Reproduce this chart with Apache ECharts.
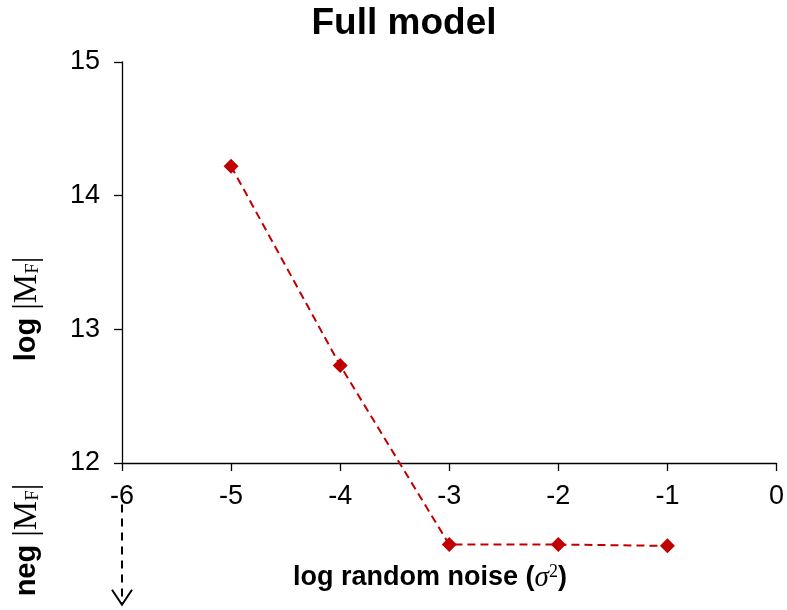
<!DOCTYPE html>
<html>
<head>
<meta charset="utf-8">
<script src="https://cdn.jsdelivr.net/npm/echarts@6/dist/echarts.min.js"></script>
<style>
  html, body { margin: 0; padding: 0; background: #ffffff; }
  #chart { width: 787px; height: 610px; }
</style>
</head>
<body>
<div id="chart"></div>
<script>
// log random noise (x) and log |M_F| (y); values below 12 sit in the "neg" band
var noiseLevels = [-5, -4, -3, -2, -1];
var logMF = [14.22, 12.73, 11.39, 11.39, 11.38];

// axis ticks
var xTicks = [-6, -5, -4, -3, -2, -1, 0];
var yTicks = [12, 13, 14, 15];

// dashed downward arrow marking the negative region of the y axis
var negArrowX = [-6, -6];
var negArrowY = [11.69, 10.94];

var chart = echarts.init(document.getElementById('chart'), null, { renderer: 'canvas' });

var sans = 'Liberation Sans, Arial, sans-serif';
var serif = 'Liberation Serif, Times New Roman, serif';

function mfRich(prefix) {
  return {
    style: {
      text: '{b|' + prefix + ' }{s||M}{sub|F}{s||}',
      rich: {
        b: { fontFamily: sans, fontWeight: 'bold', fontSize: 29, fill: '#000' },
        s: { fontFamily: serif, fontSize: 33, fill: '#000' },
        sub: { fontFamily: serif, fontSize: 19, fill: '#000', padding: [12, 0, 0, 0] }
      },
      align: 'center',
      verticalAlign: 'middle'
    }
  };
}

var option = {
  backgroundColor: '#ffffff',
  animation: false,
  grid: { left: 122, right: 7, top: 62, bottom: 147, containLabel: false },
  xAxis: {
    type: 'value',
    min: xTicks[0],
    max: xTicks[xTicks.length - 1],
    interval: 1,
    axisLine: { lineStyle: { color: '#000', width: 1.3 } },
    axisTick: { show: true, inside: false, length: 8, lineStyle: { color: '#000', width: 1.3 } },
    axisLabel: { color: '#000', fontFamily: sans, fontSize: 27, margin: 20, showMinLabel: true, showMaxLabel: true },
    splitLine: { show: false }
  },
  yAxis: {
    type: 'value',
    min: yTicks[0],
    max: yTicks[yTicks.length - 1],
    interval: 1,
    axisLine: { show: true, onZero: false, lineStyle: { color: '#000', width: 1.3 } },
    axisTick: { show: true, inside: false, length: 8, lineStyle: { color: '#000', width: 1.3 } },
    axisLabel: { color: '#000', fontFamily: sans, fontSize: 27, margin: 22 },
    splitLine: { show: false }
  },
  series: [
    {
      type: 'line',
      data: noiseLevels.map(function (x, i) { return [x, logMF[i]]; }),
      clip: false,
      symbol: 'diamond',
      symbolSize: 15,
      itemStyle: { color: '#C00000' },
      lineStyle: { color: '#C00000', width: 2, type: [8, 5] },
      z: 5
    },
    {
      type: 'custom',
      clip: false,
      data: [[negArrowX[0], negArrowY[0], negArrowX[1], negArrowY[1]]],
      renderItem: function (params, api) {
        var p0 = api.coord([api.value(0), api.value(1)]);
        var p1 = api.coord([api.value(2), api.value(3)]);
        return {
          type: 'group',
          children: [
            {
              type: 'line',
              shape: { x1: p0[0], y1: p0[1], x2: p1[0], y2: p1[1] },
              style: { stroke: '#000', lineWidth: 2, lineDash: [8, 6] }
            },
            {
              type: 'polyline',
              shape: { points: [[p1[0] - 10, p1[1] - 15], [p1[0], p1[1]], [p1[0] + 10, p1[1] - 15]] },
              style: { stroke: '#000', lineWidth: 2, fill: 'none' }
            }
          ]
        };
      }
    }
  ],
  graphic: [
    {
      type: 'text',
      x: 404,
      y: 24,
      style: {
        text: 'Full model', fontFamily: sans, fontWeight: 'bold', fontSize: 37, fill: '#000',
        align: 'center', verticalAlign: 'middle'
      }
    },
    {
      type: 'text',
      x: 430,
      y: 578,
      style: {
        text: '{b|log random noise (}{i|σ}{sup|2}{b|)}',
        rich: {
          b: { fontFamily: sans, fontWeight: 'bold', fontSize: 27, fill: '#000' },
          i: { fontFamily: serif, fontStyle: 'italic', fontSize: 29, fill: '#000' },
          sup: { fontFamily: serif, fontSize: 18, fill: '#000', padding: [0, 0, 12, 0] }
        },
        align: 'center',
        verticalAlign: 'middle'
      }
    },
    Object.assign({ type: 'text', x: 27, y: 309, rotation: Math.PI / 2 }, mfRich('log')),
    Object.assign({ type: 'text', x: 27, y: 540, rotation: Math.PI / 2 }, mfRich('neg'))
  ]
};

chart.setOption(option);
</script>
</body>
</html>
